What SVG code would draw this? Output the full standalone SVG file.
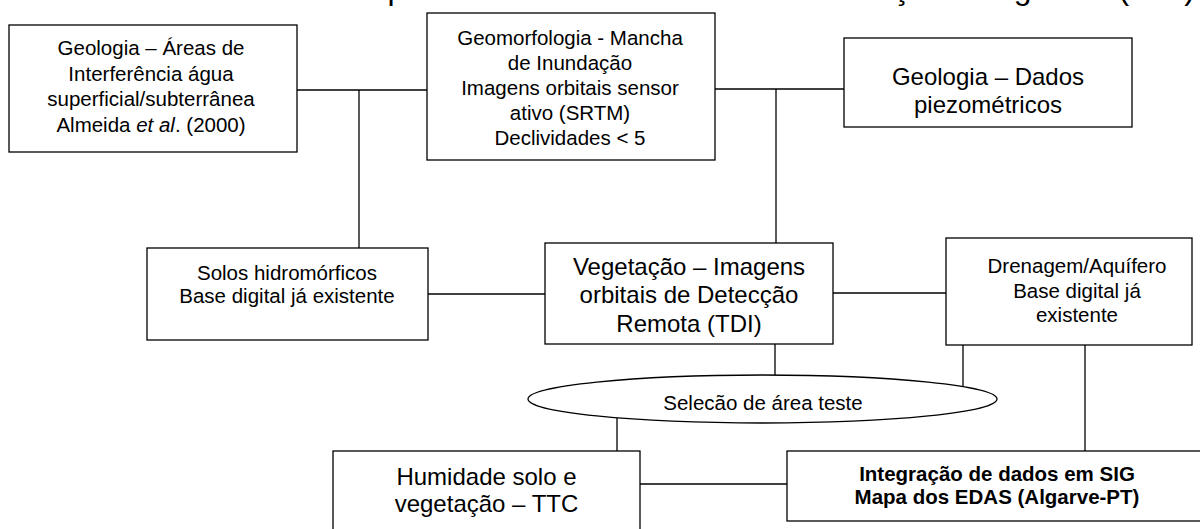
<svg xmlns="http://www.w3.org/2000/svg" width="1200" height="529" viewBox="0 0 1200 529">
<style>
.box{fill:#fff;stroke:#000;stroke-width:1.3}
.ln{fill:none;stroke:#000;stroke-width:1.3}
text{font-family:"Liberation Sans",Arial,sans-serif;fill:#000;text-anchor:middle}
.s{font-size:20.5px}
.m{font-size:24px}
.b{font-size:20.5px;font-weight:bold}
</style>
<rect width="1200" height="529" fill="#fff"/>
<text id="title" x="1195" y="-1.5" style="font-size:32px;text-anchor:end">manipulados em um Sistema de Informação Geográfica (SIG)</text>
<g id="connectors">
<line class="ln" x1="297" y1="90" x2="427" y2="90"/>
<line class="ln" x1="359" y1="90" x2="359" y2="248"/>
<line class="ln" x1="715" y1="89" x2="844" y2="89"/>
<line class="ln" x1="776" y1="89" x2="776" y2="243"/>
<line class="ln" x1="428" y1="294" x2="545" y2="294"/>
<line class="ln" x1="833" y1="293" x2="946" y2="293"/>
<line class="ln" x1="775" y1="344" x2="775" y2="375"/>
<line class="ln" x1="963" y1="345" x2="963" y2="386.6"/>
<line class="ln" x1="1085" y1="345" x2="1085" y2="451"/>
<line class="ln" x1="617" y1="417.8" x2="617" y2="451"/>
<line class="ln" x1="640" y1="484" x2="787" y2="484"/>
</g>
<g id="geologia-areas">
<rect class="box" x="9" y="25" width="288" height="127"/>
<text class="s" x="151" y="55">Geologia – Áreas de</text>
<text class="s" x="151" y="81">Interferência água</text>
<text class="s" x="151" y="106">superficial/subterrânea</text>
<text class="s" x="151" y="132">Almeida <tspan font-style="italic">et al</tspan>. (2000)</text>
</g>
<g id="geomorfologia">
<rect class="box" x="427" y="13" width="288" height="147"/>
<text class="s" x="570" y="45">Geomorfologia - Mancha</text>
<text class="s" x="570" y="70">de Inundação</text>
<text class="s" x="570" y="95">Imagens orbitais sensor</text>
<text class="s" x="570" y="120">ativo (SRTM)</text>
<text class="s" x="570" y="145">Declividades &lt; 5</text>
</g>
<g id="geologia-dados">
<rect class="box" x="844" y="38" width="288" height="89"/>
<text class="m" x="988" y="85">Geologia – Dados</text>
<text class="m" x="988" y="113">piezométricos</text>
</g>
<g id="solos">
<rect class="box" x="147" y="248" width="281" height="92"/>
<text class="s" x="287" y="280">Solos hidromórficos</text>
<text class="s" x="287" y="303">Base digital já existente</text>
</g>
<g id="vegetacao">
<rect class="box" x="545" y="243" width="288" height="101"/>
<text class="m" x="689" y="275">Vegetação – Imagens</text>
<text class="m" x="689" y="303">orbitais de Detecção</text>
<text class="m" x="689" y="332">Remota (TDI)</text>
</g>
<g id="drenagem">
<rect class="box" x="946" y="238" width="246" height="107"/>
<text class="s" x="1077" y="273">Drenagem/Aquífero</text>
<text class="s" x="1077" y="298">Base digital já</text>
<text class="s" x="1077" y="322">existente</text>
</g>
<g id="selecao">
<ellipse class="box" cx="762.5" cy="399" rx="234.5" ry="24"/>
<text class="s" x="763" y="410">Selecão de área teste</text>
</g>
<g id="humidade">
<rect class="box" x="333" y="451" width="307" height="80"/>
<text class="m" x="486.5" y="485">Humidade solo e</text>
<text class="m" x="486.5" y="512">vegetação – TTC</text>
</g>
<g id="integracao">
<rect class="box" x="787" y="451" width="420" height="70"/>
<text class="b" x="997" y="481">Integração de dados em SIG</text>
<text class="b" x="997" y="504">Mapa dos EDAS (Algarve-PT)</text>
</g>
</svg>
